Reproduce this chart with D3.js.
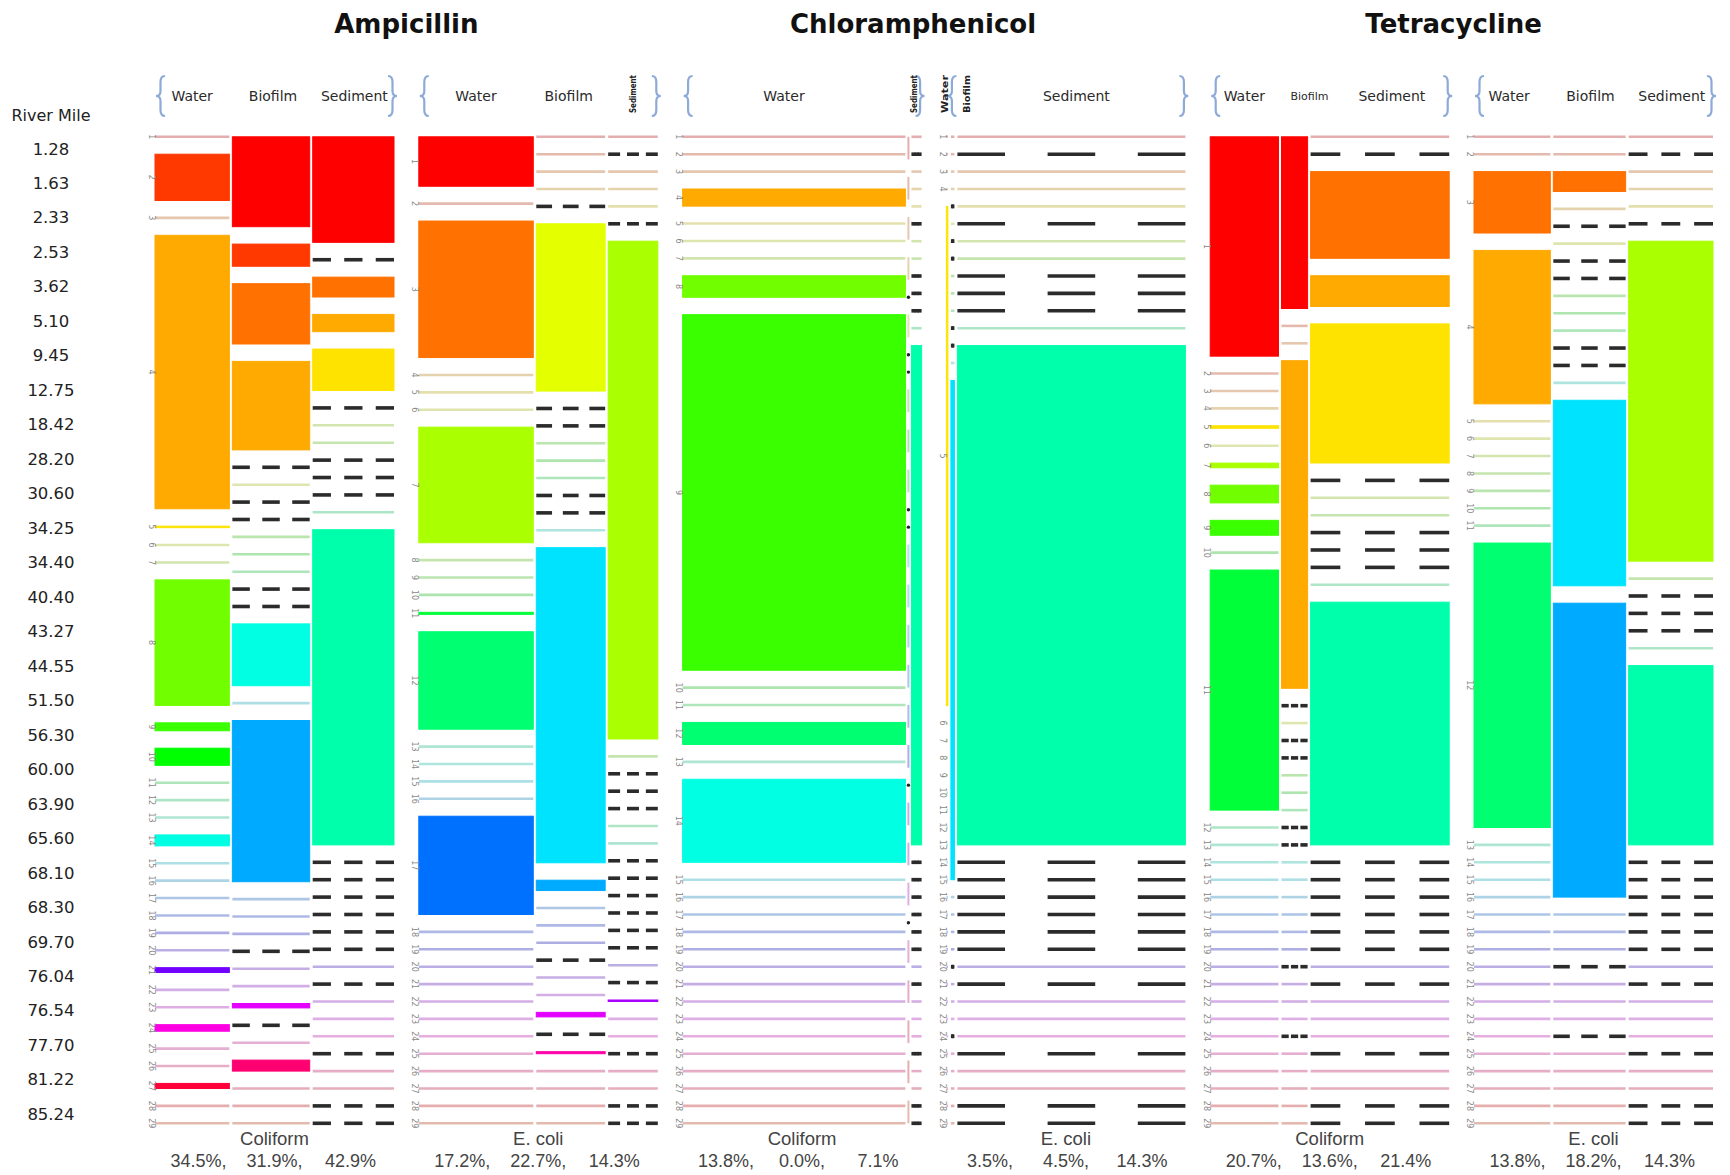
<!DOCTYPE html>
<html>
<head>
<meta charset="utf-8">
<script src="https://cdnjs.cloudflare.com/ajax/libs/d3/7.8.5/d3.min.js"></script>
<style>
  body { margin: 0; background: #ffffff; }
  svg { display: block; }
</style>
</head>
<body>
<script>
// ---------------------------------------------------------------
// Data: 29 sampling sites along the river (upstream -> downstream)
// ---------------------------------------------------------------
const riverMiles = ["1.28","1.63","2.33","2.53","3.62","5.10","9.45","12.75","18.42","28.20",
  "30.60","34.25","34.40","40.40","43.27","44.55","51.50","56.30","60.00","63.90",
  "65.60","68.10","68.30","69.70","76.04","76.54","77.70","81.22","85.24"];

const drugs = ["Ampicillin", "Chloramphenicol", "Tetracycline"];
const organisms = ["Coliform", "E. coli"];
const sampleTypes = ["Water", "Biofilm", "Sediment"];

// Percent of isolates resistant, per sample type (Water, Biofilm, Sediment)
const ampColiformPct = [34.5, 31.9, 42.9];
const ampEcoliPct    = [17.2, 22.7, 14.3];
const chlColiformPct = [13.8, 0.0, 7.1];
const chlEcoliPct    = [3.5, 4.5, 14.3];
const tetColiformPct = [20.7, 13.6, 21.4];
const tetEcoliPct    = [13.8, 18.2, 14.3];

// Relative weight of each sample-type column in a panel
const ampColiformWeight = [75, 78, 82];
const ampEcoliWeight    = [113, 68, 49];
const chlColiformWeight = [219, 0, 10];
const chlEcoliWeight    = [1.5, 3.5, 227];
const tetColiformWeight = [68, 26, 138];
const tetEcoliWeight    = [76, 72, 84];

// Share of resistant isolates contributed by each site (sites 1..29).
// null = site not sampled for that type, 0 = no resistant isolates.
const ampColiformWater    = [0, 46.5, 0, 274.6, 1.5, 0, 0, 126.1, 8, 17.2, 0, 0, 0, 11, 0, 0, 0, 0, 0, 0, 4.8, 0, 0, 6.6, 0, 0, 5.1, 0, 0];
const ampColiformBiofilm  = [90, 22.2, 60.4, 88.6, null, 0, null, null, 0, 0, 0, null, null, 61.9, 0, 161.4, 0, 0, 0, null, 0, 0, 4.4, null, 0, 11, 0, 0, 0];
const ampColiformSediment = [104.6, null, 19.7, 17.1, 41.1, null, 0, 0, null, null, null, 0, 312.4, null, null, null, null, null, null, 0, null, 0, 0, 0, null, 0, 0, null, null];

const ampEcoliWater    = [48.9, 0, 135, 0, 0, 0, 114.3, 0, 0, 0, 2, 96.4, 0, 0, 0, 0, 97.2, 0, 0, 0, 0, 0, 0, 0, 0, 0, 0, 0, 0];
const ampEcoliBiofilm  = [0, 0, 0, 0, null, 166.1, null, null, 0, 0, 0, null, null, 0, 312.9, 10.3, 0, 0, 0, null, 0, 0, 4.5, null, 2, 0, 0, 0, 0];
const ampEcoliSediment = [0, null, 0, 0, 0, null, 493.5, 0, null, null, null, 0, 0, null, null, null, null, null, null, 0, null, 1.5, 0, 0, null, 0, 0, null, null];

const chlColiformWater    = [0, 0, 0, 17.1, 0, 0, 0, 21.5, 355, 0, 0, 22, 0, 82.9, 0, 0, 0, 0, 0, 0, 0, 0, 0, 0, 0, 0, 0, 0, 0];
const chlColiformBiofilm  = [0, 0, 0, 0, null, 0, null, null, 0, 0, 0, null, null, 0, 0, 0, 0, 0, 0, null, 0, 0, 0, null, 0, 0, 0, 0, 0];
const chlColiformSediment = [0, null, 0, 0, 0, null, 0, 0, null, null, null, 0, 492, null, null, null, null, null, null, 0, null, 0, 0, 0, null, 0, 0, null, null];

const chlEcoliWater    = [0, 0, 0, 0, 484, 0, 0, 0, 0, 0, 0, 0, 0, 0, 0, 0, 0, 0, 0, 0, 0, 0, 0, 0, 0, 0, 0, 0, 0];
const chlEcoliBiofilm  = [0, 0, 0, 0, null, 0, null, null, 0, 0, 0, null, null, 0, 495, 0, 0, 0, 0, null, 0, 0, 0, null, 0, 0, 0, 0, 0];
const chlEcoliSediment = [0, null, 0, 0, 0, null, 0, 0, null, null, null, 0, 494.5, null, null, null, null, null, null, 0, null, 0, 0, 0, null, 0, 0, null, null];

const tetColiformWater    = [216.1, 0, 0, 0, 2.5, 0, 4.6, 17.5, 14.7, 0, 236.5, 0, 0, 0, 0, 0, 0, 0, 0, 0, 0, 0, 0, 0, 0, 0, 0, 0, 0];
const tetColiformBiofilm  = [169.6, 0, 0, 323.6, null, 0, null, null, 0, 0, 0, null, null, 0, 0, 0, 0, 0, 0, null, 0, 0, 0, null, 0, 0, 0, 0, 0];
const tetColiformSediment = [0, null, 85.7, 30.4, 137.5, null, 0, 0, null, null, null, 0, 239.9, null, null, null, null, null, null, 0, null, 0, 0, 0, null, 0, 0, null, null];

const tetEcoliWater    = [0, 0, 60.7, 151.7, 0, 0, 0, 0, 0, 0, 0, 281.2, 0, 0, 0, 0, 0, 0, 0, 0, 0, 0, 0, 0, 0, 0, 0, 0, 0];
const tetEcoliBiofilm  = [0, 0, 19.6, 0, null, 0, null, null, 0, 0, 0, null, null, 0, 183.2, 290.2, 0, 0, 0, null, 0, 0, 0, null, 0, 0, 0, 0, 0];
const tetEcoliSediment = [0, null, 0, 0, 0, null, 315.3, 0, null, null, null, 0, 176.7, null, null, null, null, null, null, 0, null, 0, 0, 0, null, 0, 0, null, null];

// Panel table (drug x organism), built from the arrays above
const panels = [
  { drug: 0, org: 0, pct: ampColiformPct, weight: ampColiformWeight, cols: [ampColiformWater, ampColiformBiofilm, ampColiformSediment] },
  { drug: 0, org: 1, pct: ampEcoliPct,    weight: ampEcoliWeight,    cols: [ampEcoliWater, ampEcoliBiofilm, ampEcoliSediment] },
  { drug: 1, org: 0, pct: chlColiformPct, weight: chlColiformWeight, cols: [chlColiformWater, chlColiformBiofilm, chlColiformSediment] },
  { drug: 1, org: 1, pct: chlEcoliPct,    weight: chlEcoliWeight,    cols: [chlEcoliWater, chlEcoliBiofilm, chlEcoliSediment] },
  { drug: 2, org: 0, pct: tetColiformPct, weight: tetColiformWeight, cols: [tetColiformWater, tetColiformBiofilm, tetColiformSediment] },
  { drug: 2, org: 1, pct: tetEcoliPct,    weight: tetEcoliWeight,    cols: [tetEcoliWater, tetEcoliBiofilm, tetEcoliSediment] }
];

// ---------------------------------------------------------------
// Layout and style
// ---------------------------------------------------------------
const W = 1730, H = 1175;
const yTop = 136.8, yBottom = 1123.3, rowGap = 17.4;
const nSites = riverMiles.length;
const blockSpan = (yBottom - yTop) - (nSites - 1) * rowGap;
const colGap = 3;

// header label style per panel column: h = horizontal, s = small, v = rotated, "" = none
const headerMode = [["h","h","h"], ["h","h","v"], ["h","","v"], ["v","v","h"], ["h","s","h"], ["h","h","h"]];
const headerNudge = [[0,2,1], [0,-2,0], [-10,0,-3], [-2,14,5], [0,15,12], [-3,1,1]];
const titleNudge = [0, -21, -8];

const siteHue = i => (i * 360 / 27) % 360;
const strong = i => d3.hsl(siteHue(i), 1, 0.5).formatHex();
const pale = i => d3.hsl(siteHue(i), 0.52, 0.79).formatHex();

const svg = d3.select("body").append("svg")
  .attr("width", W).attr("height", H)
  .style("font-family", "'DejaVu Sans', Verdana, sans-serif");

svg.append("rect").attr("width", W).attr("height", H).attr("fill", "#ffffff");

const panelX = d3.scaleBand()
  .domain(d3.range(panels.length))
  .range([155, 1713])
  .paddingInner(0.094)
  .paddingOuter(0);

// River-mile axis on the left
const mileY = d3.scalePoint().domain(riverMiles).range([149, 1114.4]);
svg.append("text")
  .attr("x", 51).attr("y", 115)
  .attr("text-anchor", "middle").attr("dominant-baseline", "central")
  .attr("font-size", 16).attr("fill", "#222")
  .text("River Mile");
svg.append("g").selectAll("text").data(riverMiles).join("text")
  .attr("x", 51).attr("y", d => mileY(d))
  .attr("text-anchor", "middle").attr("dominant-baseline", "central")
  .attr("font-size", 16.5).attr("fill", "#222")
  .text(d => d);

// Drug titles, one over each pair of panels
drugs.forEach((d, k) => {
  const left = panelX(2 * k), right = panelX(2 * k + 1) + panelX.bandwidth();
  svg.append("text")
    .attr("x", (left + right) / 2 + titleNudge[k]).attr("y", 24)
    .attr("text-anchor", "middle").attr("dominant-baseline", "central")
    .attr("font-size", 26).attr("font-weight", "bold").attr("fill", "#111")
    .text(d);
});

// Curly brace path
function brace(x, y0, y1, w, dir) {
  // dir = 1: opens to the right "{", dir = -1: "}"
  const ym = (y0 + y1) / 2;
  const xo = x + dir * w;       // outer ends
  const xm = x + dir * w * 0.5; // spine
  return `M${xo},${y0} Q${xm},${y0} ${xm},${y0 + 6} L${xm},${ym - 5} Q${xm},${ym} ${x},${ym}` +
         ` Q${xm},${ym} ${xm},${ym + 5} L${xm},${y1 - 6} Q${xm},${y1} ${xo},${y1}`;
}

panels.forEach((p, pi) => {
  const g = svg.append("g");
  const px = panelX(pi), bw = panelX.bandwidth();
  const wScale = d3.scaleLinear().domain([0, d3.sum(p.weight)]).range([0, bw - 2 * colGap]);
  const wOffsets = [0, ...d3.cumsum(p.weight)];

  const colX = p.cols.map((_, j) => px + j * colGap + wScale(wOffsets[j]));
  const colW = p.weight.map(v => wScale(v));

  // braces around the sample-type header
  g.append("path").attr("d", brace(px + 1, 76, 116, 9, 1))
    .attr("fill", "none").attr("stroke", "#8eaad8").attr("stroke-width", 2.2);
  g.append("path").attr("d", brace(px + bw + 3, 76, 116, 9, -1))
    .attr("fill", "none").attr("stroke", "#8eaad8").attr("stroke-width", 2.2);

  // sample-type header labels
  sampleTypes.forEach((s, j) => {
    const mode = headerMode[pi][j];
    if (!mode) return;
    const cx = colX[j] + colW[j] / 2 + headerNudge[pi][j];
    if (mode === "v") {
      g.append("text")
        .attr("transform", `translate(${cx},94) rotate(-90)`)
        .attr("text-anchor", "middle").attr("dominant-baseline", "central")
        .attr("font-size", 9).attr("font-weight", "bold").attr("fill", "#222")
        .attr("textLength", 38).attr("lengthAdjust", "spacingAndGlyphs")
        .text(s);
    } else {
      g.append("text")
        .attr("x", cx).attr("y", 96)
        .attr("text-anchor", "middle").attr("dominant-baseline", "central")
        .attr("font-size", mode === "s" ? 11 : 14).attr("fill", "#2a2a2a")
        .text(s);
    }
  });

  // mosaic columns
  p.cols.forEach((vals, j) => {
    const x0 = colX[j], w = colW[j];
    const total = d3.sum(vals, v => v || 0);
    const eff = total > 0 ? vals : vals.map(v => (v === null ? null : 1));
    const effTotal = d3.sum(eff, v => v || 0);
    const hScale = d3.scaleLinear().domain([0, effTotal]).range([0, blockSpan]);
    const offsets = [0, ...d3.cumsum(eff, v => v || 0)];
    const cells = vals.map((v, i) => ({
      i, v,
      top: yTop + i * rowGap + hScale(offsets[i]),
      h: hScale(eff[i] || 0)
    }));
    const cg = g.append("g");

    cells.forEach(c => {
      if (c.v === null) {
        if (w < 1) {
          cg.append("circle").attr("cx", x0).attr("cy", c.top).attr("r", 1.7).attr("fill", "#222");
        } else {
          const dash = 0.2 * w + 2;
          const gap = (w - 3 * dash) / 2;
          [0, 1, 2].forEach(k => {
            cg.append("line")
              .attr("x1", x0 + k * (dash + gap)).attr("x2", x0 + k * (dash + gap) + dash)
              .attr("y1", c.top).attr("y2", c.top)
              .attr("stroke", "#2b2b2b").attr("stroke-width", 3.6);
          });
        }
      } else if (total === 0) {
        cg.append("line")
          .attr("x1", x0).attr("x2", x0)
          .attr("y1", c.top).attr("y2", c.top + c.h)
          .attr("stroke", pale(c.i)).attr("stroke-width", 2);
      } else if (c.v === 0) {
        cg.append("line")
          .attr("x1", x0).attr("x2", x0 + w)
          .attr("y1", c.top).attr("y2", c.top)
          .attr("stroke", pale(c.i)).attr("stroke-width", 2.6);
      } else {
        cg.append("rect")
          .attr("x", x0).attr("y", c.top)
          .attr("width", w).attr("height", c.h)
          .attr("fill", strong(c.i))
          .attr("stroke", strong(c.i)).attr("stroke-width", 1);
      }
    });

    // site numbers beside the first column of each panel
    if (j === 0) {
      g.append("g").selectAll("text").data(cells).join("text")
        .attr("transform", c => `translate(${px - 4},${c.top + c.h / 2}) rotate(90)`)
        .attr("text-anchor", "middle").attr("dominant-baseline", "central")
        .attr("font-size", 8).attr("fill", "#888")
        .text(c => c.i + 1);
    }
  });

  // organism and resistance percentages
  const cx = px + bw / 2;
  g.append("text")
    .attr("x", cx).attr("y", 1138)
    .attr("text-anchor", "middle").attr("dominant-baseline", "central")
    .attr("font-family", "'Liberation Sans', Arial, sans-serif")
    .attr("font-size", 18.5).attr("fill", "#444")
    .text(organisms[p.org]);
  p.pct.forEach((v, j) => {
    g.append("text")
      .attr("x", cx + (j - 1) * 76).attr("y", 1161)
      .attr("text-anchor", "middle").attr("dominant-baseline", "central")
      .attr("font-family", "'Liberation Sans', Arial, sans-serif")
      .attr("font-size", 18).attr("fill", "#444")
      .text(v.toFixed(1) + "%" + (j < 2 ? "," : ""));
  });
});
</script>
</body>
</html>
